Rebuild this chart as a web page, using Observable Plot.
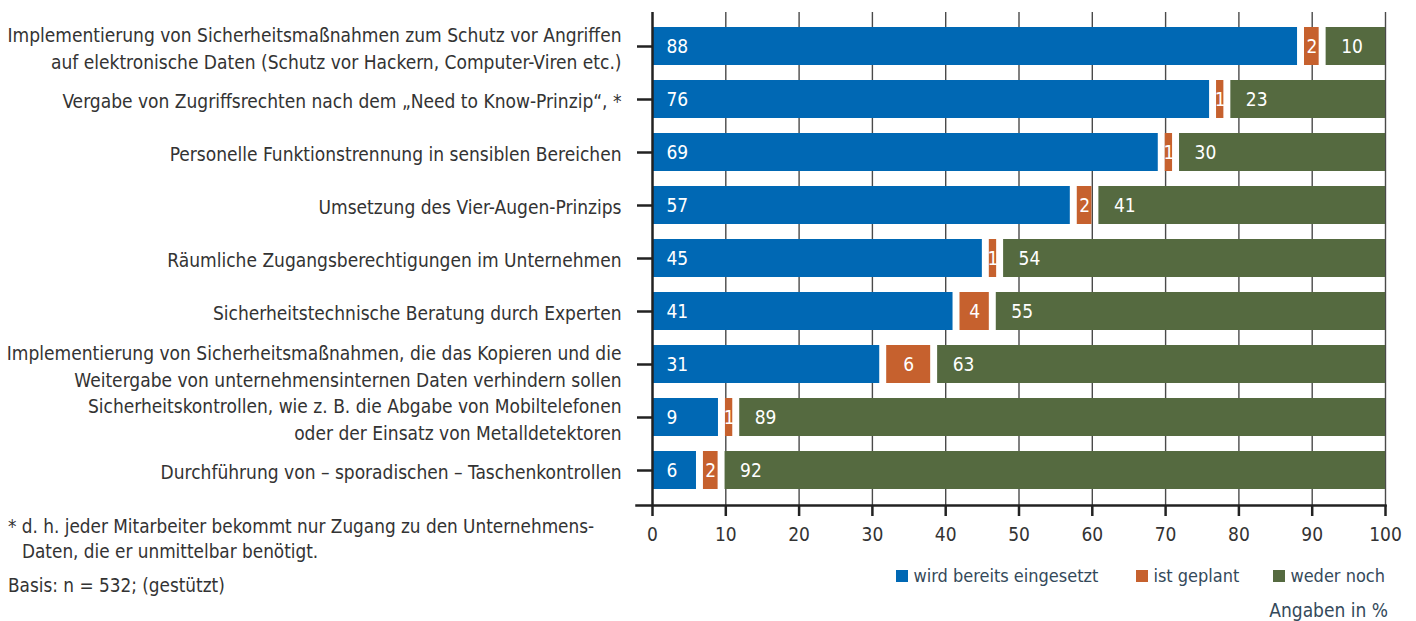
<!DOCTYPE html>
<html>
<head>
<meta charset="utf-8">
<script src="https://cdn.jsdelivr.net/npm/d3@7"></script>
<script src="https://cdn.jsdelivr.net/npm/@observablehq/plot@0.6"></script>
<style>
  html, body { margin: 0; padding: 0; background: #fff; }
  #wrap { position: relative; width: 1416px; height: 621px; font-family: "Liberation Sans Narrow", "DejaVu Sans Condensed", "Roboto", sans-serif; color: #333; }
  #legend { position: absolute; right: 31px; top: 565px; font-size: 18px; color: #34495a; display: flex; align-items: center; white-space: nowrap; }
  #legend .item { display: flex; align-items: center; }
  #legend .sw { width: 12px; height: 12px; display: inline-block; margin-right: 5px; }
  #unit { position: absolute; right: 28px; top: 599px; font-size: 19px; color: #34495a; }
  #foot { position: absolute; left: 8px; top: 514px; font-size: 18.8px; color: #333; line-height: 25px; }
</style>
</head>
<body>
<div id="wrap">
  <div id="chart"></div>
  <div id="legend"></div>
  <div id="unit">Angaben in %</div>
  <div id="foot">
    <div>* d. h. jeder Mitarbeiter bekommt nur Zugang zu den Unternehmens-</div>
    <div style="padding-left:14px">Daten, die er unmittelbar benötigt.</div>
    <div style="margin-top:9px">Basis: n = 532; (gestützt)</div>
  </div>
</div>
<script>
const categories = [
  "Implementierung von Sicherheitsmaßnahmen zum Schutz vor Angriffen\nauf elektronische Daten (Schutz vor Hackern, Computer-Viren etc.)",
  "Vergabe von Zugriffsrechten nach dem „Need to Know-Prinzip“, *",
  "Personelle Funktionstrennung in sensiblen Bereichen",
  "Umsetzung des Vier-Augen-Prinzips",
  "Räumliche Zugangsberechtigungen im Unternehmen",
  "Sicherheitstechnische Beratung durch Experten",
  "Implementierung von Sicherheitsmaßnahmen, die das Kopieren und die\nWeitergabe von unternehmensinternen Daten verhindern sollen",
  "Sicherheitskontrollen, wie z. B. die Abgabe von Mobiltelefonen\noder der Einsatz von Metalldetektoren",
  "Durchführung von – sporadischen – Taschenkontrollen"
];
const used    = [88, 76, 69, 57, 45, 41, 31, 9, 6];
const planned = [2, 1, 1, 2, 1, 4, 6, 1, 2];
const neither = [10, 23, 30, 41, 54, 55, 63, 89, 92];
const seriesNames = ["wird bereits eingesetzt", "ist geplant", "weder noch"];
const colors = ["#0068b4", "#c6612e", "#556a40"];
const xTicks = [0, 10, 20, 30, 40, 50, 60, 70, 80, 90, 100];

const gap = 0.95;
const rows = categories.map((c, i) => ({cat: c, used: used[i], planned: planned[i], neither: neither[i]}));
const xMax = xTicks[xTicks.length - 1];

const chart = Plot.plot({
  width: 1416,
  height: 560,
  marginLeft: 652,
  marginRight: 31,
  marginTop: 12,
  marginBottom: 55,
  style: {fontFamily: "'Liberation Sans Narrow', 'DejaVu Sans Condensed', Roboto, sans-serif", fontSize: "19px", color: "#333", background: "white"},
  x: {domain: [0, xMax], axis: null},
  y: {domain: categories, padding: 0.28, axis: null},
  marks: [
    Plot.ruleX(xTicks.slice(1), {stroke: "#4a4a4a", strokeWidth: 1.4}),
    Plot.barX(rows, {y: "cat", x1: 0, x2: "used", fill: colors[0]}),
    Plot.barX(rows, {y: "cat", x1: d => d.used + gap, x2: d => d.used + gap + d.planned, fill: colors[1]}),
    Plot.barX(rows, {y: "cat", x1: d => d.used + d.planned + 2 * gap, x2: xMax, fill: colors[2]}),
    Plot.text(rows, {y: "cat", x: 0, text: "used", dx: 14, textAnchor: "start", fill: "white", fontSize: 19}),
    Plot.text(rows, {y: "cat", x: d => d.used + gap + d.planned / 2, text: "planned", textAnchor: "middle", fill: "white", fontSize: 19}),
    Plot.text(rows, {y: "cat", x: d => d.used + d.planned + 2 * gap, text: "neither", dx: 15, textAnchor: "start", fill: "white", fontSize: 19}),
    Plot.axisX({ticks: xTicks, tickSize: 11, tickPadding: 11, strokeWidth: 2.5, stroke: "#222", fill: "#333", fontSize: 19, label: null}),
    Plot.axisY({tickSize: 15, tickPadding: 16, strokeWidth: 2.5, stroke: "#222", fill: "#333", fontSize: 19, lineHeight: 1.42, label: null}),
    Plot.ruleX([0], {stroke: "#222", strokeWidth: 2.5}),
    Plot.frame({anchor: "bottom", insetLeft: -16, stroke: "#222", strokeWidth: 2.5})
  ]
});
document.getElementById("chart").appendChild(chart);

const legend = document.getElementById("legend");
const gaps = [0, 38, 34];
seriesNames.forEach((name, i) => {
  const item = document.createElement("span");
  item.className = "item";
  item.style.marginLeft = gaps[i] + "px";
  const sw = document.createElement("span");
  sw.className = "sw";
  sw.style.background = colors[i];
  item.appendChild(sw);
  item.appendChild(document.createTextNode(name));
  legend.appendChild(item);
});
</script>
</body>
</html>
